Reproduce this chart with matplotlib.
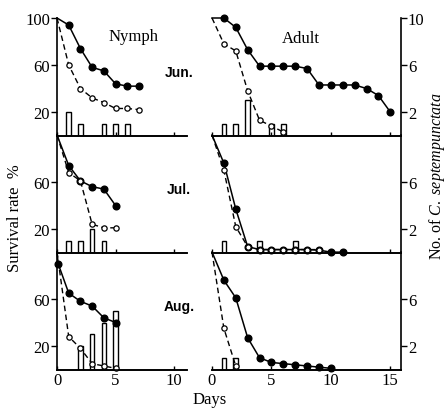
import matplotlib.pyplot as plt

# survival rate (%) by day, solid = control, dashed = with C. septempunctata
months = ["Jun.", "Jul.", "Aug."]

# nymph panels
nymph_days_solid = [[0, 1, 2, 3, 4, 5, 6, 7],
                    [0, 1, 2, 3, 4, 5],
                    [0, 0.1, 1, 2, 3, 4, 5]]
nymph_solid = [[100, 94, 74, 58, 55, 44, 42, 42],
               [100, 74, 61, 56, 54, 40],
               [100, 90, 65, 58, 54, 44, 40]]
nymph_days_dash = [[0, 1, 2, 3, 4, 5, 6, 7],
                   [0, 1, 2, 3, 4, 5],
                   [0, 1, 2, 3, 4, 5]]
nymph_dash = [[100, 60, 40, 32, 28, 23, 23, 22],
              [100, 68, 61, 24, 21, 21],
              [100, 28, 18, 5, 3, 1]]
nymph_bar_days = [[1, 2, 4, 5, 6], [1, 2, 3, 4], [2, 3, 4, 5]]
nymph_bar_n = [[2, 1, 1, 1, 1], [1, 1, 2, 1], [2, 3, 4, 5]]

# adult panels
adult_days_solid = [list(range(16)), list(range(12)), list(range(11))]
adult_solid = [[100, 100, 92, 73, 59, 59, 59, 59, 57, 43, 43, 43, 43, 40, 34, 20],
               [100, 76, 37, 5, 2.5, 2.5, 2.5, 2.5, 2.5, 2, 0.3, 0.3],
               [100, 76, 61, 27, 10, 6, 5, 4, 3, 2, 1]]
adult_days_dash = [[0, 1, 2, 3, 4, 5, 6],
                   [0, 1, 2, 3, 4, 5, 6, 7, 8, 9],
                   [0, 1, 2]]
adult_dash = [[100, 78, 72, 38, 13, 8, 3],
              [100, 70, 22, 5, 2.5, 2.5, 2.5, 2.5, 2.5, 2.5],
              [100, 35, 3]]
adult_bar_days = [[1, 2, 3, 5, 6], [1, 4, 7], [1, 2]]
adult_bar_n = [[1, 1, 3, 1, 1], [1, 1, 1], [1, 1]]

serif = "Liberation Serif"
sans = "Liberation Sans"
plt.rcParams["font.family"] = serif
plt.rcParams["mathtext.fontset"] = "custom"
plt.rcParams["mathtext.rm"] = "Liberation Serif"
plt.rcParams["mathtext.it"] = "Liberation Serif:italic"

fig = plt.figure(figsize=(4.47, 4.10), dpi=100)

W, H = 447, 410
rows_bottom = [136.5, 253.5, 370.5]
panel_h = 117.5


def make_panel(x0, x1, row, xmax, days_s, surv_s, days_d, surv_d, bdays, bn, side):
    rect = [x0 / W, 1 - rows_bottom[row] / H, (x1 - x0) / W, panel_h / H]
    ax = fig.add_axes(rect)
    tw = ax.twinx()
    ax.set_zorder(tw.get_zorder() + 1)
    ax.patch.set_visible(False)

    tw.bar(bdays, bn, width=0.4, color="white", edgecolor="black", linewidth=1.0)
    ax.plot(days_s, surv_s, color="black", lw=1.1, marker="o", ms=4.8,
            markevery=list(range(1, len(days_s))), clip_on=False)
    ax.plot(days_d, surv_d, color="black", lw=1.0, ls=(0, (4, 2.5)), marker="o", ms=3.8,
            mfc="white", mew=0.9, markevery=list(range(1, len(days_d))), clip_on=False)

    ax.set_xlim(0, xmax)
    ax.set_ylim(0, 100)
    tw.set_ylim(0, 10)
    for a in (ax, tw):
        for s in ("top", "left", "right"):
            a.spines[s].set_visible(False)
        a.spines["bottom"].set_linewidth(1.2)

    if side == "left":
        ax.spines["left"].set_visible(True)
        ax.spines["left"].set_linewidth(1.2)
        ax.set_yticks([20, 60, 100] if row == 0 else [20, 60])
        ax.tick_params(axis="y", direction="out", length=4, width=1, labelsize=12, pad=1)
        tw.set_yticks([])
        ax.set_xticks([0, 5, 10])
    else:
        ax.set_yticks([])
        tw.spines["right"].set_visible(True)
        tw.spines["right"].set_linewidth(1.2)
        tw.set_yticks([2, 6, 10] if row == 0 else [2, 6])
        tw.tick_params(axis="y", direction="out", length=4, width=1, labelsize=12, pad=1)
        ax.set_xticks([0, 5, 10, 15])
    ax.tick_params(axis="x", direction="in", length=3, width=1, labelsize=12, pad=2)
    if row < 2:
        ax.set_xticklabels([])
    return ax


for r in range(3):
    axl = make_panel(57, 187, r, 11.1, nymph_days_solid[r], nymph_solid[r],
                     nymph_days_dash[r], nymph_dash[r], nymph_bar_days[r], nymph_bar_n[r], "left")
    axr = make_panel(212, 401, r, 15.9, adult_days_solid[r], adult_solid[r],
                     adult_days_dash[r], adult_dash[r], adult_bar_days[r], adult_bar_n[r], "right")
    axl.text(10.4, 54, months[r], fontfamily=sans, fontweight="bold", fontsize=10,
             ha="center", va="center")
    if r == 0:
        axl.text(6.5, 85, "Nymph", fontsize=12, ha="center", va="center")
        axr.text(7.5, 83, "Adult", fontsize=12, ha="center", va="center")

fig.text(210 / W, 1 - 400 / H, "Days", fontsize=12, ha="center", va="center")
fig.text(15 / W, 1 - 218 / H, "Survival rate  %", fontsize=12, rotation=90,
         ha="center", va="center")
fig.text(437 / W, 1 - 176 / H, "No. of $\\it{C.\\ septempunctata}$", fontsize=11.5,
         rotation=90, ha="center", va="center")

fig.savefig("out.png", dpi=100)
